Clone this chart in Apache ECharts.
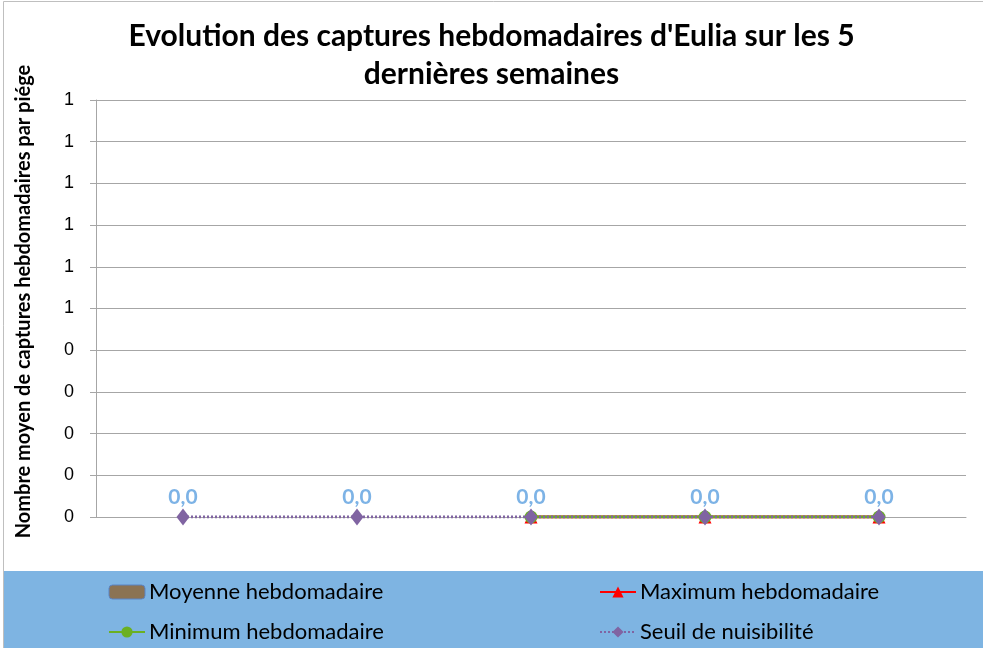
<!DOCTYPE html>
<html>
<head>
<meta charset="utf-8">
<script src="https://cdn.jsdelivr.net/npm/echarts@6/dist/echarts.min.js"></script>
<style>
  html, body { margin: 0; padding: 0; background: #fff; }
  #chart { width: 983px; height: 648px; }
</style>
</head>
<body>
<div id="chart"></div>
<script>
// semaines (étiquettes non affichées sur l'axe)
const semaines = ['S1', 'S2', 'S3', 'S4', 'S5'];
// valeurs par série
const moyenne = [0, 0, 0, 0, 0];
const maximum = [null, null, 0, 0, 0];
const minimum = [null, null, 0, 0, 0];
const seuil = [0, 0, 0, 0, 0];
// axe Y
const yMin = 0;
const yMax = 1;
const yStep = 0.1;

const chart = echarts.init(document.getElementById('chart'));

const fontMain = 'Lato, "Open Sans", sans-serif';

let legendText = { fontFamily: fontMain, fontSize: 22, color: '#000', padding: [0, 0, 0, -1] };

let option = {
    animation: false,
    title: {
        text: "Evolution des captures hebdomadaires d'Eulia sur les 5\ndernières semaines",
        left: 'center',
        top: 12,
        textStyle: {
            fontFamily: fontMain,
            fontSize: 30,
            fontWeight: 'bold',
            color: '#000',
            lineHeight: 38
        }
    },
    graphic: [
        // cadre extérieur
        {
            type: 'rect',
            shape: { x: 3.5, y: 1.5, width: 985, height: 660 },
            style: { fill: 'none', stroke: '#bfbfbf', lineWidth: 1 },
            silent: true,
            z: -10
        },
        // bandeau de légende
        {
            type: 'rect',
            shape: { x: 4, y: 571, width: 983, height: 80 },
            style: { fill: '#7eb4e2' },
            silent: true,
            z: -5
        }
    ],
    legend: [
        {
            orient: 'vertical',
            left: 103,
            top: 576,
            itemGap: 18,
            itemWidth: 36,
            itemHeight: 14,
            textStyle: legendText,
            data: [
                { name: 'Moyenne hebdomadaire', itemStyle: { color: '#8b7353', borderColor: '#5b84c4', borderWidth: 1 } },
                'Minimum hebdomadaire'
            ]
        },
        {
            orient: 'vertical',
            left: 594,
            top: 576,
            itemGap: 18,
            itemWidth: 36,
            itemHeight: 14,
            textStyle: legendText,
            data: ['Maximum hebdomadaire', 'Seuil de nuisibilité']
        }
    ],
    grid: {
        left: 96,
        right: 17,
        top: 100,
        bottom: 131,
        containLabel: false
    },
    xAxis: {
        type: 'category',
        data: semaines,
        boundaryGap: true,
        axisLine: { lineStyle: { color: '#a6a6a6', width: 1 } },
        axisTick: { show: false },
        axisLabel: { show: false }
    },
    yAxis: {
        type: 'value',
        min: yMin,
        max: yMax,
        interval: yStep,
        name: 'Nombre moyen de captures hebdomadaires par piége',
        nameLocation: 'middle',
        nameGap: 62,
        nameTextStyle: {
            fontFamily: fontMain,
            fontSize: 20,
            fontWeight: 'bold',
            color: '#000',
            padding: [0, 0, 0, 14]
        },
        axisLine: { show: true, lineStyle: { color: '#a6a6a6', width: 1 } },
        axisTick: { show: true, length: 6, lineStyle: { color: '#a6a6a6' } },
        axisLabel: {
            fontFamily: '"Liberation Sans", Arial, sans-serif',
            fontSize: 18,
            color: '#000',
            margin: 22,
            formatter: function (v) { return Math.round(v).toString(); }
        },
        splitLine: { lineStyle: { color: '#a6a6a6', width: 1 } }
    },
    series: [
        {
            name: 'Moyenne hebdomadaire',
            type: 'bar',
            data: moyenne,
            barWidth: '50%',
            itemStyle: { color: '#8b7353', borderWidth: 0 },
            label: {
                show: true,
                position: 'top',
                distance: 9,
                fontFamily: fontMain,
                fontSize: 21,
                fontWeight: 'bold',
                color: '#7db3e6',
                formatter: function (p) { return p.value.toFixed(1).replace('.', ','); }
            }
        },
        {
            name: 'Maximum hebdomadaire',
            type: 'line',
            data: maximum,
            symbol: 'triangle',
            symbolSize: 13,
            itemStyle: { color: '#ff0000' },
            lineStyle: { color: '#ff0000', width: 3 },
            z: 3
        },
        {
            name: 'Minimum hebdomadaire',
            type: 'line',
            data: minimum,
            symbol: 'circle',
            symbolSize: 13,
            itemStyle: { color: '#6bb022' },
            lineStyle: { color: '#6bb022', width: 3 },
            z: 4
        },
        {
            name: 'Seuil de nuisibilité',
            type: 'line',
            data: seuil,
            symbol: 'diamond',
            symbolSize: [13, 17],
            itemStyle: { color: '#8064a2' },
            lineStyle: { color: '#8064a2', width: 3, type: [2, 2] },
            z: 5
        }
    ]
};

chart.setOption(option);
</script>
</body>
</html>
